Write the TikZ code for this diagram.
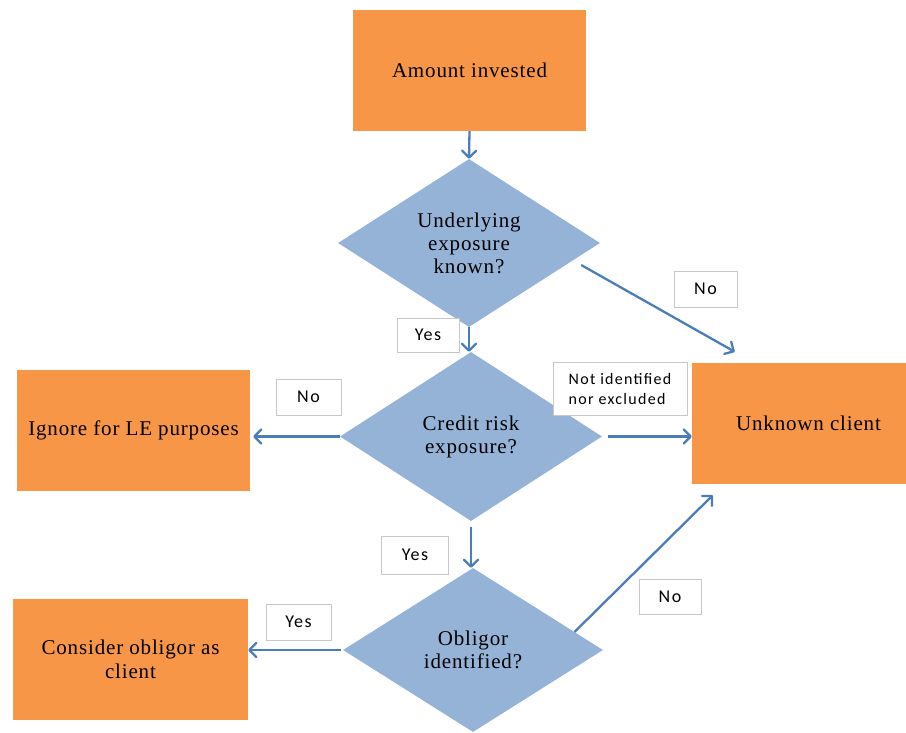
\documentclass[tikz,border=0pt]{standalone}
\usepackage{fontspec}
\setmainfont{Liberation Serif}[LetterSpace=4]
\newfontfamily\lblfont{Carlito}[LetterSpace=8]
\usetikzlibrary{shapes.geometric,arrows.meta,calc}
\definecolor{boxorange}{HTML}{F79646}
\definecolor{diablue}{HTML}{95B3D7}
\definecolor{arrowblue}{HTML}{4A7EBB}
\definecolor{lblgrey}{HTML}{C8C8C8}
\begin{document}
\begin{tikzpicture}[x=1pt,y=-1pt,
  procbox/.style={rectangle, fill=boxorange, draw=none, inner sep=0pt,
    font=\fontsize{21}{24}\selectfont, align=center},
  decision/.style={diamond, fill=diablue, draw=none, inner sep=0pt,
    font=\fontsize{21}{23}\selectfont, align=center},
  lbl/.style={rectangle, fill=white, draw=lblgrey, line width=0.9pt, inner sep=0pt,
    font=\lblfont\fontsize{18}{20}\selectfont},
  arr/.style={draw=arrowblue, line width=2.3pt,
    -{Straight Barb[length=7pt,width=14pt,line cap=round,line join=round]}}
]
\path[use as bounding box] (0,0) rectangle (906,732);
\clip (0,0) rectangle (906,732);

% process boxes
\node[procbox, minimum width=233pt, minimum height=121pt] (amt) at (469.5,70.5) {Amount invested};
\node[procbox, minimum width=233pt, minimum height=121pt] (ign) at (133.5,430.5) {Ignore for LE purposes};
\node[procbox, minimum width=233pt, minimum height=121pt] (unk) at (808.5,423.5) {Unknown client};
\node[procbox, minimum width=235pt, minimum height=121pt] (cons) at (130.5,659.5) {Consider obligor as\\client};

% decisions
\node[decision, minimum width=262pt, minimum height=168pt] (d1) at (469,243) {Underlying\\exposure\\known?};
\node[decision, minimum width=262pt, minimum height=169pt] (d2) at (471,436.5) {Credit risk\\exposure?};
\node[decision, minimum width=260pt, minimum height=164pt] (d3) at (473,650) {Obligor\\identified?};

% labels
\node[lbl, minimum width=63pt, minimum height=36pt] (l1) at (705.5,289) {No};
\node[lbl, minimum width=62pt, minimum height=34pt] (l2) at (428,335) {Yes};
\node[lbl, minimum width=134pt, minimum height=53pt, align=left,
      font=\lblfont\fontsize{16}{20}\selectfont] (l3) at (620,388.5) {Not identified\\nor excluded};
\node[lbl, minimum width=65pt, minimum height=36pt] (l4) at (308.5,397) {No};
\node[lbl, minimum width=67pt, minimum height=38pt] (l5) at (415,555) {Yes};
\node[lbl, minimum width=62pt, minimum height=35pt] (l6) at (670,596.5) {No};
\node[lbl, minimum width=65pt, minimum height=36pt] (l7) at (298.5,622) {Yes};

% free ends of the slanted connectors
\coordinate (n1s) at ($(d1.east)+(-19,22)$);
\coordinate (n1e) at ($(unk.north west)+(43,-11)$);
\coordinate (n3s) at ($(d3.north)!0.78!(d3.east)$);
\coordinate (n3e) at ($(unk.south west)+(21,11)$);

% connectors
\draw[arr] (amt.south) -- (d1.north);
\draw[arr] (n1s) -- (n1e);
\draw[arr] (d1.south) -- (d1.south |- d2.north);
\draw[arr, shorten >=3pt] (d2.west) -- (d2.west -| ign.east);
\draw[arr, shorten <=6pt] (d2.east) -- (d2.east -| unk.west);
\draw[arr, shorten <=6pt] (d2.south) -- (d2.south |- d3.north);
\draw[arr, shorten <=2pt] (d3.west) -- (d3.west -| cons.east);
\draw[arr] (n3s) -- (n3e);
\end{tikzpicture}
\end{document}
